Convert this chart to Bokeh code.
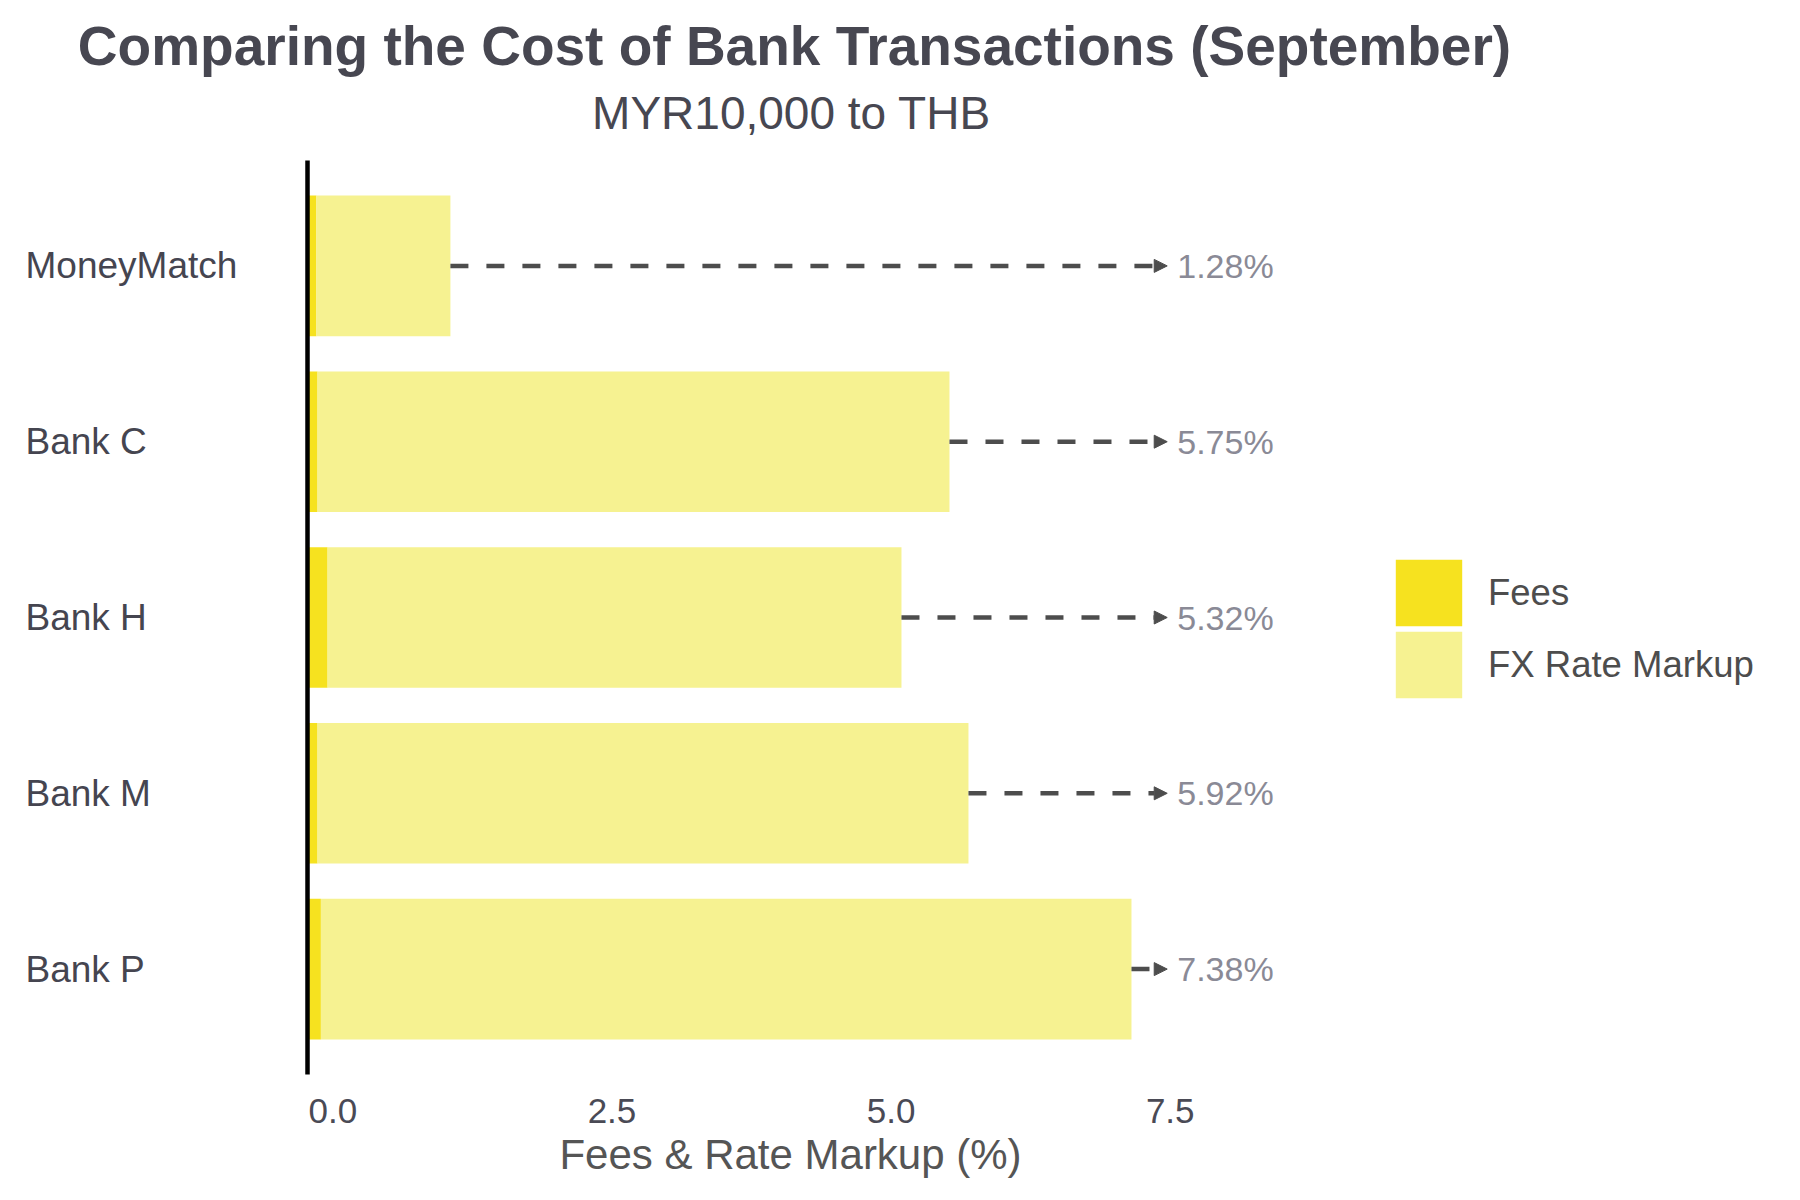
from bokeh.plotting import figure
from bokeh.models import (ColumnDataSource, Range1d, Arrow, NormalHead,
                          LabelSet, Label, Legend, LegendItem)
from bokeh.embed import file_html
from bokeh.resources import INLINE
from bokeh.core.properties import value

# ---- data ----
banks = ["MoneyMatch", "Bank C", "Bank H", "Bank M", "Bank P"]
fees = [0.08, 0.09, 0.18, 0.09, 0.12]
fx_markup = [1.20, 5.66, 5.14, 5.83, 7.26]
x_ticks = [0.0, 2.5, 5.0, 7.5]
x_tick_labels = ["0.0", "2.5", "5.0", "7.5"]
title_text = "Comparing the Cost of Bank Transactions (September)"
subtitle_text = "MYR10,000 to THB"
x_title = "Fees & Rate Markup (%)"
series_names = ["Fees", "FX Rate Markup"]

positions = list(range(len(banks)))[::-1]
totals = [round(f + m, 2) for f, m in zip(fees, fx_markup)]
total_labels = [f"{t:.2f}%" for t in totals]

src = ColumnDataSource(dict(bank=banks, pos=positions, fee=fees,
                            markup=fx_markup, total=totals, label=total_labels))
tick_src = ColumnDataSource(dict(tick=x_ticks, tick_label=x_tick_labels))

FONT = "Liberation Sans"
FEE_COLOR = "#F6E21F"
FX_COLOR = "#F6F291"

W, H = 1784, 1184
X0_PX = 307.0          # screen x of value 0
PX_PER_UNIT = 111.65   # horizontal scale
Y0_PX = 968.6          # screen y (from top) of the lowest category
PX_PER_CAT = 175.8     # vertical spacing of categories

p = figure(width=W, height=H, output_backend="svg", toolbar_location=None,
           x_range=Range1d(-X0_PX / PX_PER_UNIT, (W - X0_PX) / PX_PER_UNIT),
           y_range=Range1d(-(H - Y0_PX) / PX_PER_CAT, Y0_PX / PX_PER_CAT),
           x_axis_location=None, y_axis_location=None,
           min_border=0)
p.grid.visible = False
p.outline_line_color = None
p.background_fill_color = "white"
p.border_fill_color = "white"

r_fee = p.hbar(y="pos", left=0, right="fee", height=0.8, source=src,
               fill_color=FEE_COLOR, line_color=None)
r_fx = p.hbar(y="pos", left="fee", right="total", height=0.8, source=src,
              fill_color=FX_COLOR, line_color=None)

# vertical axis line at x = 0, spanning the panel
y_lo, y_hi = -0.6, len(banks) - 0.4
p.segment(x0=[0], y0=[y_lo], x1=[0], y1=[y_hi], line_color="black", line_width=4.5)

arrows = Arrow(x_start="total", y_start="pos", x_end=7.70, y_end="pos", source=src,
               line_color="#4d4d4d", line_width=4.5, line_dash="18 18",
               end=NormalHead(size=13, fill_color="#4d4d4d", line_color="#4d4d4d", line_width=1))
p.add_layout(arrows)

p.add_layout(LabelSet(x=7.79, y="pos", text="label", source=src,
                      text_align="left", text_baseline="middle",
                      text_font=value(FONT), text_font_size="34px", text_color="#8A8A96"))

# category labels (left-aligned)
p.add_layout(LabelSet(x=25, y="pos", x_units="screen", text="bank", source=src,
                      text_align="left", text_baseline="middle",
                      text_font=value(FONT), text_font_size="37px", text_color="#454550"))

# x tick labels
p.add_layout(LabelSet(x="tick", y=H - 1110, y_units="screen", text="tick_label", source=tick_src,
                      x_offset=1, text_align="left", text_baseline="middle",
                      text_font=value(FONT), text_font_size="35px", text_color="#4a4a55"))

p.add_layout(Label(x=790, y=H - 1153.5, x_units="screen", y_units="screen", text=x_title,
                   text_align="center", text_baseline="middle", text_font=FONT,
                   text_font_size="42px", text_color="#555555"))

p.add_layout(Label(x=794, y=H - 45.5, x_units="screen", y_units="screen", text=title_text,
                   text_align="center", text_baseline="middle", text_font=FONT,
                   text_font_style="bold", text_font_size="55px", text_color="#474751"))
p.add_layout(Label(x=791, y=H - 112, x_units="screen", y_units="screen", text=subtitle_text,
                   text_align="center", text_baseline="middle", text_font=FONT,
                   text_font_size="46px", text_color="#474751"))

# legend: one box per key so the keys sit close together like the reference
legend_common = dict(glyph_width=83, glyph_height=83, padding=0, margin=0, label_standoff=18,
                     label_text_font=FONT, label_text_font_size="36.5px",
                     label_text_color="#4d4d4d", border_line_color=None,
                     background_fill_alpha=0)
p.add_layout(Legend(items=[LegendItem(label=series_names[0], renderers=[r_fee])],
                    location=(1387, H - 634), **legend_common))
p.add_layout(Legend(items=[LegendItem(label=series_names[1], renderers=[r_fx])],
                    location=(1387, H - 706.4), **legend_common))

open("out.html", "w").write(file_html(p, INLINE))
